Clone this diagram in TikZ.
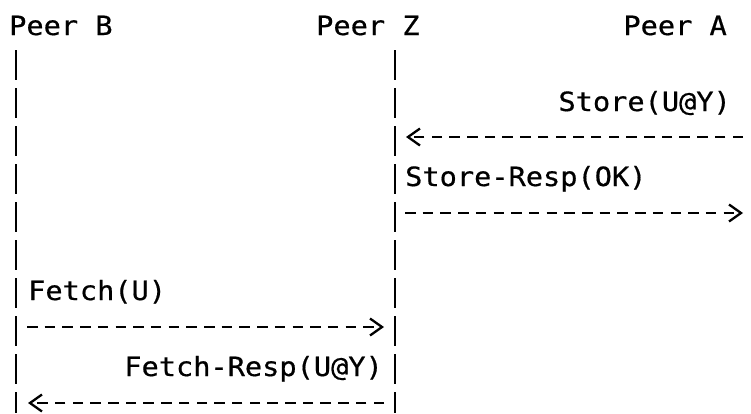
\documentclass[tikz,border=0pt]{standalone}
\usepackage{fontspec}
\newfontfamily\asciifont[FakeStretch=1.08,FakeBold=0.6]{DejaVu Sans Mono}
\usetikzlibrary{arrows.meta}

\begin{document}
\begin{tikzpicture}[
		x=1pt,y=-1pt,
		label text/.style={font=\asciifont\fontsize{26.5}{30}\selectfont, inner sep=0pt, text=black},
		lifeline/.style={draw=black, line width=2.6pt, dash pattern=on 30pt off 8pt},
		message/.style={draw=black, line width=2.4pt, dash pattern=on 10.5pt off 7.2pt,
			-{Straight Barb[length=12pt,width=17pt,line width=2.3pt]}},
	]
	\useasboundingbox (0,0) rectangle (751,413);
	% Draw peer names
	\node (peerB) [label text,anchor=base west] at (9,35) {Peer B};
	\node (peerZ) [label text,anchor=base west] at (316,35) {Peer Z};
	\node (peerA) [label text,anchor=base east] at (727,35) {Peer A};
	% Lifeline ends and message ends
	\coordinate (bTop) at (16,50);
	\coordinate (bEnd) at (16,413);
	\coordinate (zTop) at (395,50);
	\coordinate (zEnd) at (395,413);
	\coordinate (aStore) at (743,137);
	\coordinate (zStore) at (406,137);
	\coordinate (zStoreResp) at (405,213);
	\coordinate (aStoreResp) at (743,213);
	\coordinate (bFetch) at (27,327);
	\coordinate (zFetch) at (384,327);
	\coordinate (zFetchResp) at (384,403);
	\coordinate (bFetchResp) at (28,403);
	% Draw lifelines
	\draw[lifeline] (bTop) -- (bEnd);
	\draw[lifeline] (zTop) -- (zEnd);
	% Draw messages
	\draw[message] (aStore) -- (zStore);
	\node (store) [label text,anchor=base east] at (731,111) {Store(U@Y)};
	\draw[message] (zStoreResp) -- (aStoreResp);
	\node (storeResp) [label text,anchor=base west] at (405,186) {Store-Resp(OK)};
	\node (fetch) [label text,anchor=base west] at (28,300) {Fetch(U)};
	\draw[message] (bFetch) -- (zFetch);
	\node (fetchResp) [label text,anchor=base east] at (383,376) {Fetch-Resp(U@Y)};
	\draw[message] (zFetchResp) -- (bFetchResp);
\end{tikzpicture}
\end{document}
